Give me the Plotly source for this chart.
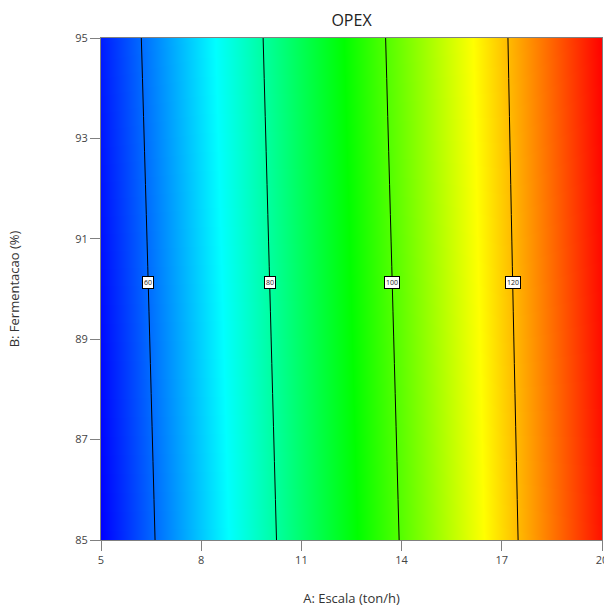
import numpy as np
import plotly.graph_objects as go

# Factor A: Escala (ton/h), factor B: Fermentacao (%)
escala = [5, 8, 11, 14, 17, 20]
fermentacao = [85, 90, 95]
# OPEX (rows = fermentacao, cols = escala)
opex_b85 = [51.1, 67.6, 84.1, 100.4, 117.3, 133.9]
opex_b90 = [52.2, 68.7, 85.2, 101.5, 118.2, 134.6]
opex_b95 = [53.4, 69.8, 86.3, 102.6, 119.0, 135.3]
contour_levels = [60, 80, 100, 120]
label_b = 90.12
x_ticks = [5, 8, 11, 14, 17, 20]
y_ticks = [85, 87, 89, 91, 93, 95]

z = np.array([opex_b85, opex_b90, opex_b95])

colorscale = [[0.0, "#0000ff"], [0.25, "#00ffff"], [0.5, "#00ff00"],
              [0.75, "#ffff00"], [1.0, "#ff0000"]]

fig = go.Figure()
fig.add_trace(go.Contour(
    x=escala, y=fermentacao, z=z,
    colorscale=colorscale, zmin=z.min(), zmax=z.max(),
    contours=dict(coloring="heatmap", start=contour_levels[0],
                  end=contour_levels[-1], size=20),
    line=dict(color="black", width=1),
    showscale=False, hoverinfo="skip",
))

# contour labels positioned along B = label_b
row = np.array([np.interp(label_b, fermentacao, z[:, j]) for j in range(len(escala))])
for lv in contour_levels:
    xa = float(np.interp(lv, row, escala))
    fig.add_annotation(x=xa, y=label_b, text=str(lv), showarrow=False,
                       font=dict(size=7, color="#222", family="Open Sans"),
                       bgcolor="white", bordercolor="black", borderwidth=1,
                       borderpad=1)

axis_common = dict(showline=True, linecolor="#808080", linewidth=1, mirror=True,
                   ticks="outside", tickcolor="#808080", ticklen=10,
                   showgrid=False, zeroline=False, ticklabeloverflow="allow",
                   automargin=False,
                   tickfont=dict(size=11, color="#444", family="Open Sans"))

fig.update_layout(
    width=604, height=608,
    margin=dict(l=101, r=2, t=38, b=68, autoexpand=False),
    paper_bgcolor="white", plot_bgcolor="white",
    title=dict(text="OPEX", x=0.582, xanchor="center", y=0.967, yanchor="middle",
               font=dict(size=16, color="#222", family="Open Sans")),
    xaxis=dict(range=[5, 20], tickvals=x_ticks,
               title=dict(text="A: Escala (ton/h)", standoff=27,
                          font=dict(size=13, color="#333", family="Open Sans")),
               **axis_common),
    yaxis=dict(range=[85, 95], tickvals=y_ticks,
               title=dict(text="B: Fermentacao (%)", standoff=52,
                          font=dict(size=13, color="#333", family="Open Sans")),
               **axis_common),
)

fig.write_html("out.html")
